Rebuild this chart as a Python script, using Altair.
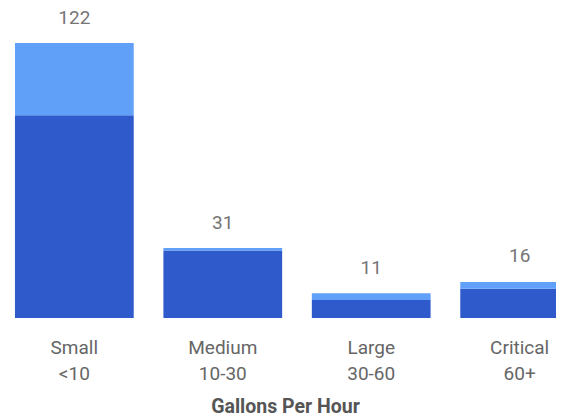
import altair as alt
import pandas as pd

categories = ["Small", "Medium", "Large", "Critical"]
ranges = ["<10", "10-30", "30-60", "60+"]
dark_values = [90, 30, 8, 13]
light_values = [32, 1, 3, 3]
series_names = ["Base", "Extra"]
colors = ["#2E5ACC", "#60A0F8"]

rows = []
for c, r, d, l in zip(categories, ranges, dark_values, light_values):
    lab = c + "\n" + r
    rows.append({"cat": lab, "series": series_names[0], "value": d, "ord": 0})
    rows.append({"cat": lab, "series": series_names[1], "value": l, "ord": 1})
df = pd.DataFrame(rows)
tot = pd.DataFrame({
    "cat": [c + "\n" + r for c, r in zip(categories, ranges)],
    "total": [d + l for d, l in zip(dark_values, light_values)],
})
order = list(tot["cat"])

xscale = alt.Scale(domain=order, range=[0, 578], paddingInner=0.2, paddingOuter=0.047)
yscale = alt.Scale(domain=[0, 122], nice=False, zero=True)

bars = alt.Chart(df).mark_bar(clip=True).encode(
    x=alt.X("cat:N", sort=order, scale=xscale,
            axis=alt.Axis(title="Gallons Per Hour", labelAngle=0, ticks=False, domain=False,
                          labelExpr="split(datum.label, '\\n')",
                          labelFont="Roboto", labelFontSize=19, labelColor="#666666",
                          labelLineHeight=26.5, labelPadding=20,
                          titleFont="Roboto", titleFontSize=19.5, titleFontWeight="bold",
                          titleColor="#555555", titlePadding=13.5, titleX=277)),
    y=alt.Y("value:Q", stack="zero", scale=yscale, axis=None),
    color=alt.Color("series:N", scale=alt.Scale(domain=series_names, range=colors), legend=None),
    order=alt.Order("ord:Q"),
)

labels = alt.Chart(tot).mark_text(font="Roboto", fontSize=19, color="#757575",
                                  baseline="middle", dy=-25.5).encode(
    x=alt.X("cat:N", sort=order, scale=xscale),
    y=alt.Y("total:Q", scale=yscale),
    text="total:Q",
)

chart = (bars + labels).properties(
    width=548, height=275,
    padding={"left": 0, "top": 35, "right": 0, "bottom": 99},
    autosize=alt.AutoSizeParams(type="none"),
).configure_view(stroke=None)

chart.save("out.html", embed_options={"renderer": "svg", "actions": False})
